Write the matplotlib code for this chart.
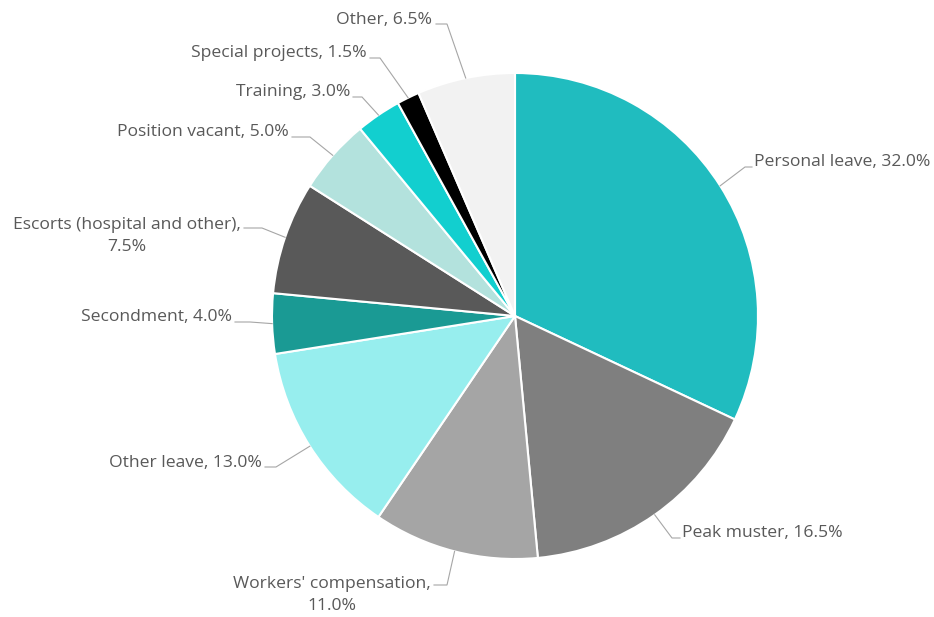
import numpy as np
import matplotlib.pyplot as plt

# share of lost hours by reason
labels = ['Personal leave', 'Peak muster', "Workers' compensation", 'Other leave',
          'Secondment', 'Escorts (hospital and other)', 'Position vacant',
          'Training', 'Special projects', 'Other']
shares = [32.0, 16.5, 11.0, 13.0, 4.0, 7.5, 5.0, 3.0, 1.5, 6.5]
colors = ['#20BCBF', '#7F7F7F', '#A5A5A5', '#97EEEE', '#1A9A94',
          '#595959', '#B3E2DD', '#12CFCF', '#000000', '#F2F2F2']

# label text: pixel position (x, y from top), alignment, line break after comma
# plus leader start and elbow x
label_pos = [
    (754, 162, 'left', False, 752, 745, 167),
    (682, 533, 'left', False, 680, 672, 538),
    (431, 595, 'right', True, 434, 447, 585),
    (262, 463, 'right', False, 265, 276, 467),
    (232, 317, 'right', False, 235, 250, 322),
    (241, 236, 'right', True, 244, 262, 228),
    (289, 132, 'right', False, 292, 310, 137),
    (350, 92, 'right', False, 353, 362, 97),
    (367, 53, 'right', False, 370, 380, 58),
    (432, 20, 'right', False, 436, 447, 24),
]

W, H = 934, 617
cx, cy, r = 515, 316, 243

fig = plt.figure(figsize=(W / 100, H / 100), dpi=100)
ax = fig.add_axes([0, 0, 1, 1])

wedges, _ = ax.pie(shares, colors=colors, startangle=90, counterclock=False,
                   center=(cx, H - cy), radius=r,
                   wedgeprops=dict(edgecolor='white', linewidth=1.5))

for w, name, val, pos in zip(wedges, labels, shares, label_pos):
    tx, ty, ha, wrap, lx0, lx1, ly = pos
    sep = ',\n' if wrap else ', '
    ax.text(tx, H - ty, f'{name}{sep}{val:.1f}%', ha=ha, va='center',
            multialignment='center', fontsize=12.6, color='#595959',
            family='Open Sans', linespacing=1.55)
    ang = np.deg2rad((w.theta1 + w.theta2) / 2)
    ex = cx + r * np.cos(ang)
    ey = H - cy + r * np.sin(ang)
    ax.plot([lx0, lx1, ex], [H - ly, H - ly, ey], color='#A6A6A6', lw=0.8,
            solid_joinstyle='miter')

ax.set_xlim(0, W)
ax.set_ylim(0, H)
ax.set_aspect('equal')
ax.axis('off')

plt.savefig('out.png', dpi=100, facecolor='white')
